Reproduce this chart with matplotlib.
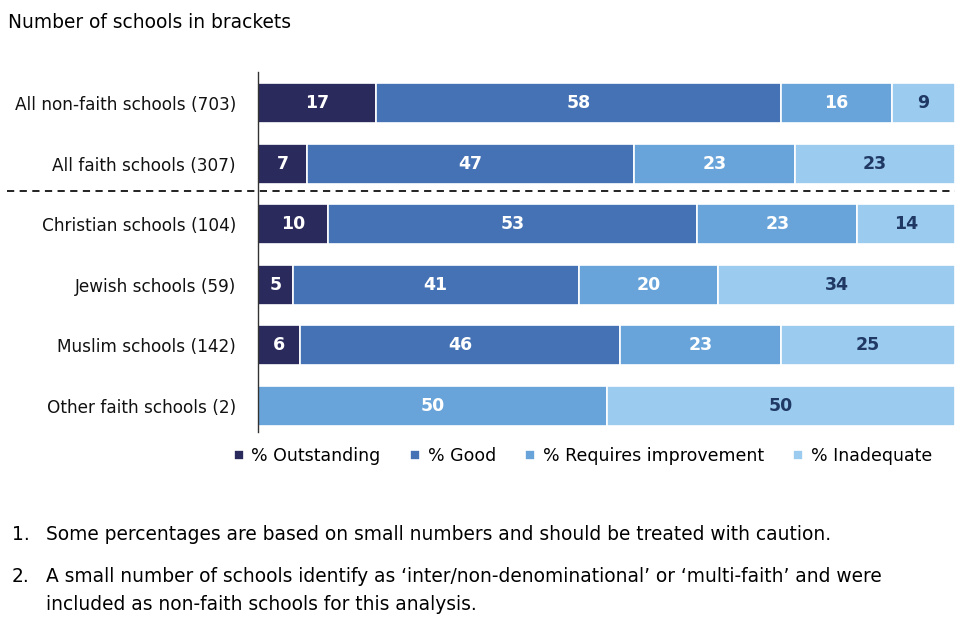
import matplotlib
matplotlib.use("Agg")
import matplotlib.pyplot as plt
import numpy as np

categories = ["All non-faith schools (703)", "All faith schools (307)", "Christian schools (104)",
              "Jewish schools (59)", "Muslim schools (142)", "Other faith schools (2)"]
series = ["% Outstanding", "% Good", "% Requires improvement", "% Inadequate"]
outstanding = [17, 7, 10, 5, 6, 0]
good = [58, 47, 53, 41, 46, 0]
requires = [16, 23, 23, 20, 23, 50]
inadequate = [9, 23, 14, 34, 25, 50]

colors = ["#2b2a5c", "#4572b5", "#68a4da", "#9ccbf0"]
label_colors = ["white", "white", "white", "#1f3864"]

plt.rcParams['font.family'] = ['DejaVu Sans']
fig = plt.figure(figsize=(9.6, 6.4), dpi=100)
ax = fig.add_axes([258/960, 1-432/640, (955-258)/960, (432-72)/640])

y = np.arange(len(categories))
left = np.zeros(len(categories))
for vals, col, lc, name in zip([outstanding, good, requires, inadequate], colors, label_colors, series):
    vals = np.array(vals, dtype=float)
    ax.barh(y, vals, left=left, height=0.66, color=col, edgecolor="white", linewidth=1.2, label=name)
    for yi, v, l in zip(y, vals, left):
        if v > 0:
            ax.text(l + v/2, yi, f"{int(v)}", ha="center", va="center", color=lc,
                    fontsize=12.5, fontweight="bold")
    left += vals

ax.set_xlim(0, 100)
ax.set_ylim(5.43, -0.51)
ax.set_yticks(y)
ax.set_yticklabels(categories, fontsize=12.2, color="#111111")
ax.tick_params(axis="y", length=0, pad=16)
ax.set_xticks([])
for s in ["top", "right", "bottom"]:
    ax.spines[s].set_visible(False)
ax.spines["left"].set_color("#333333")
ax.spines["left"].set_linewidth(1)

# dashed separator
ax.plot([-36, 100], [1.46, 1.46], ls=(0, (4, 3)), color="#111111", lw=1.3, clip_on=False)

fs = 13.4
fig.text(8/960, 1-22/640, "Number of schools in brackets", fontsize=fs, va="center", ha="left")

fig.legend(loc="center", bbox_to_anchor=(583/960, 1-456/640), ncol=4, frameon=False,
           fontsize=12.5, handlelength=0.55, handleheight=0.55, handletextpad=0.45,
           columnspacing=1.7)

fig.text(12/960, 1-535/640, "1.", fontsize=fs, va="center")
fig.text(46/960, 1-535/640, "Some percentages are based on small numbers and should be treated with caution.",
         fontsize=fs, va="center")
fig.text(12/960, 1-577/640, "2.", fontsize=fs, va="center")
fig.text(46/960, 1-577/640, "A small number of schools identify as \u2018inter/non-denominational\u2019 or \u2018multi-faith\u2019 and were",
         fontsize=fs, va="center")
fig.text(46/960, 1-605/640, "included as non-faith schools for this analysis.", fontsize=fs, va="center")

fig.savefig("out.png", dpi=100)
